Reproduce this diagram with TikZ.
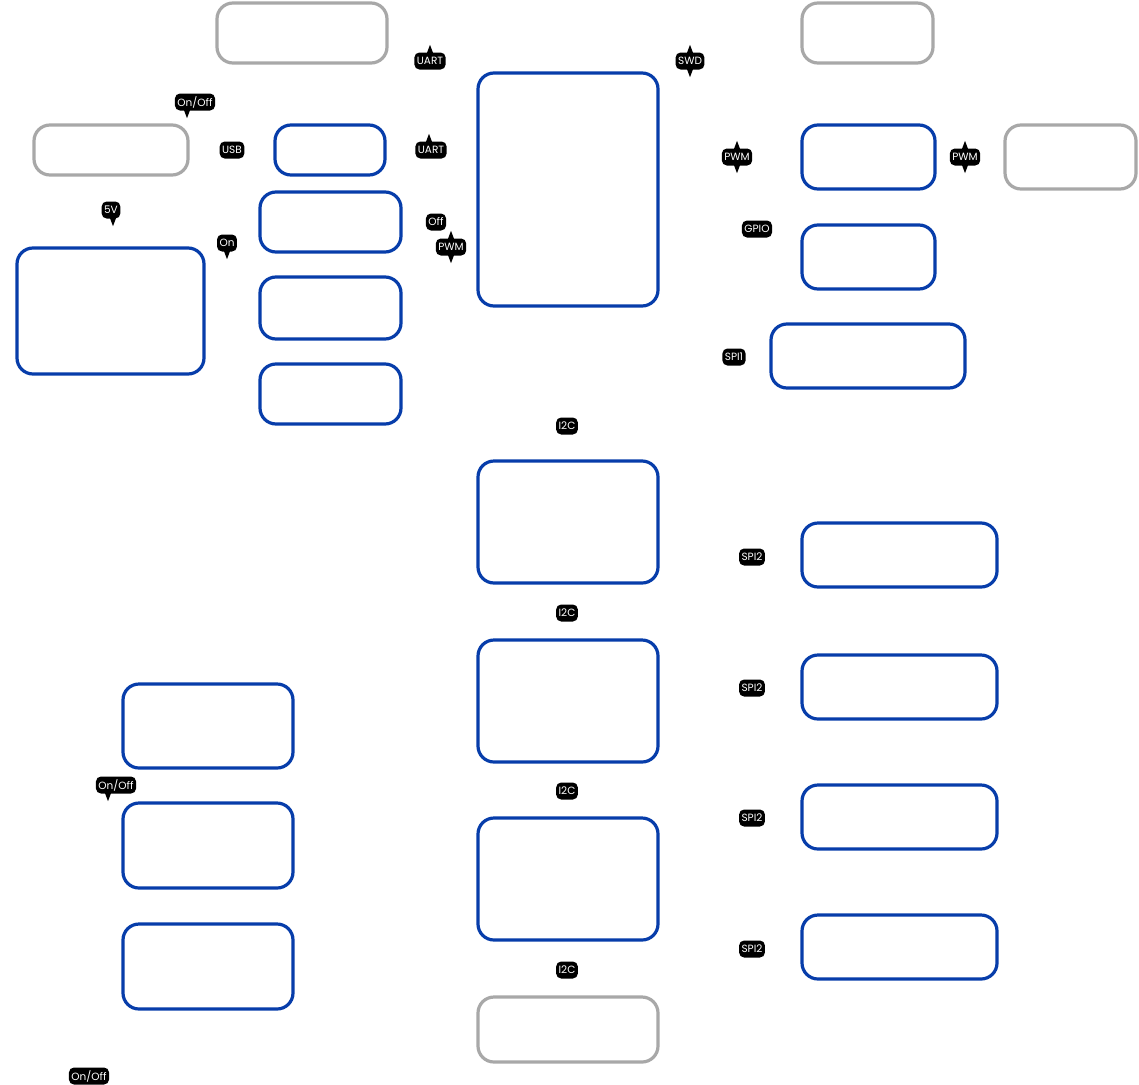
\documentclass[tikz,border=0pt]{standalone}
\usepackage{fontspec}
\setmainfont{Poppins}
\definecolor{bblue}{HTML}{073DAA}
\definecolor{bgray}{HTML}{A8A8A8}
\tikzset{
  boxbase/.style={draw, line width=3.2pt, rounded corners=16pt, fill=white, inner sep=0pt},
  bluebox/.style={boxbase, draw=bblue},
  graybox/.style={boxbase, draw=bgray},
  tag/.style={fill=black, text=white, rounded corners=5pt, inner xsep=2.5pt, inner ysep=2pt, minimum height=17pt,
    font=\fontsize{10.5}{11}\selectfont},
}
\newcommand{\bx}[6]{\node[#6, minimum width={(#4-#2)*1pt}, minimum height={(#5-#3)*1pt}] (#1) at ({(#2+#4)/2},{(#3+#5)/2}) {};}
\newcommand{\spup}[2]{\fill ([xshift=#2pt]#1.north) ++(-3,0.5) -- ++(3,-8) -- ++(3,8) -- cycle;}
\newcommand{\spdn}[2]{\fill ([xshift=#2pt]#1.south) ++(-3,-0.5) -- ++(3,8) -- ++(3,-8) -- cycle;}
\begin{document}
\begin{tikzpicture}[x=1pt,y=-1pt]
\useasboundingbox (0,0) rectangle (1139,1084);
% gray boxes
\bx{g1}{217}{3}{387}{63}{graybox}
\bx{g2}{802}{3}{933}{63}{graybox}
\bx{g3}{34}{125}{188}{175}{graybox}
\bx{g4}{1005}{125}{1136}{189}{graybox}
\bx{g5}{478}{997}{658}{1062}{graybox}
% blue boxes
\bx{usb}{275}{125}{385}{175}{bluebox}
\bx{b2}{260}{192}{401}{252}{bluebox}
\bx{b3}{260}{277}{401}{339}{bluebox}
\bx{b4}{260}{364}{401}{424}{bluebox}
\bx{mcu}{478}{73}{658}{306}{bluebox}
\bx{pwr}{17}{248}{204}{374}{bluebox}
\bx{r1}{802}{125}{935}{189}{bluebox}
\bx{r2}{802}{225}{935}{289}{bluebox}
\bx{spi}{771}{324}{965}{388}{bluebox}
\bx{c1}{478}{461}{658}{583}{bluebox}
\bx{c2}{478}{640}{658}{762}{bluebox}
\bx{c3}{478}{818}{658}{940}{bluebox}
\bx{s1}{802}{523}{997}{587}{bluebox}
\bx{s2}{802}{655}{997}{719}{bluebox}
\bx{s3}{802}{785}{997}{849}{bluebox}
\bx{s4}{802}{915}{997}{979}{bluebox}
\bx{l1}{123}{684}{293}{768}{bluebox}
\bx{l2}{123}{803}{293}{888}{bluebox}
\bx{l3}{123}{924}{293}{1009}{bluebox}
% tags
\node[tag] (t1) at (430,61) {UART}; \spup{t1}{0}
\node[tag] (t2) at (195,102) {On/Off}; \spdn{t2}{-8}
\node[tag] (t3) at (232,150) {USB};
\node[tag] (t4) at (431,150) {UART}; \spup{t4}{-2}
\node[tag] (t5) at (111,210) {5V}; \spdn{t5}{2}
\node[tag] (t6) at (227,243) {On}; \spdn{t6}{0}
\node[tag] (t7) at (436,222) {Off};
\node[tag] (t8) at (451,247) {PWM}; \spup{t8}{0} \spdn{t8}{0}
\node[tag] (t9) at (690,61) {SWD}; \spup{t9}{0} \spdn{t9}{0}
\node[tag] (t10) at (737,157) {PWM}; \spup{t10}{0} \spdn{t10}{0}
\node[tag] (t11) at (965,157) {PWM}; \spup{t11}{0} \spdn{t11}{0}
\node[tag] (t12) at (757,229) {GPIO};
\node[tag] (t13) at (734,357) {SPI1};
\node[tag] (t14) at (567,426) {I2C};
\node[tag] (t15) at (567,613) {I2C};
\node[tag] (t16) at (567,791) {I2C};
\node[tag] (t17) at (567,970) {I2C};
\node[tag] (t18) at (752,557) {SPI2};
\node[tag] (t19) at (752,688) {SPI2};
\node[tag] (t20) at (752,818) {SPI2};
\node[tag] (t21) at (752,949) {SPI2};
\node[tag] (t22) at (116,785) {On/Off}; \spdn{t22}{-8}
\node[tag] (t23) at (89,1076) {On/Off};
\end{tikzpicture}
\end{document}
